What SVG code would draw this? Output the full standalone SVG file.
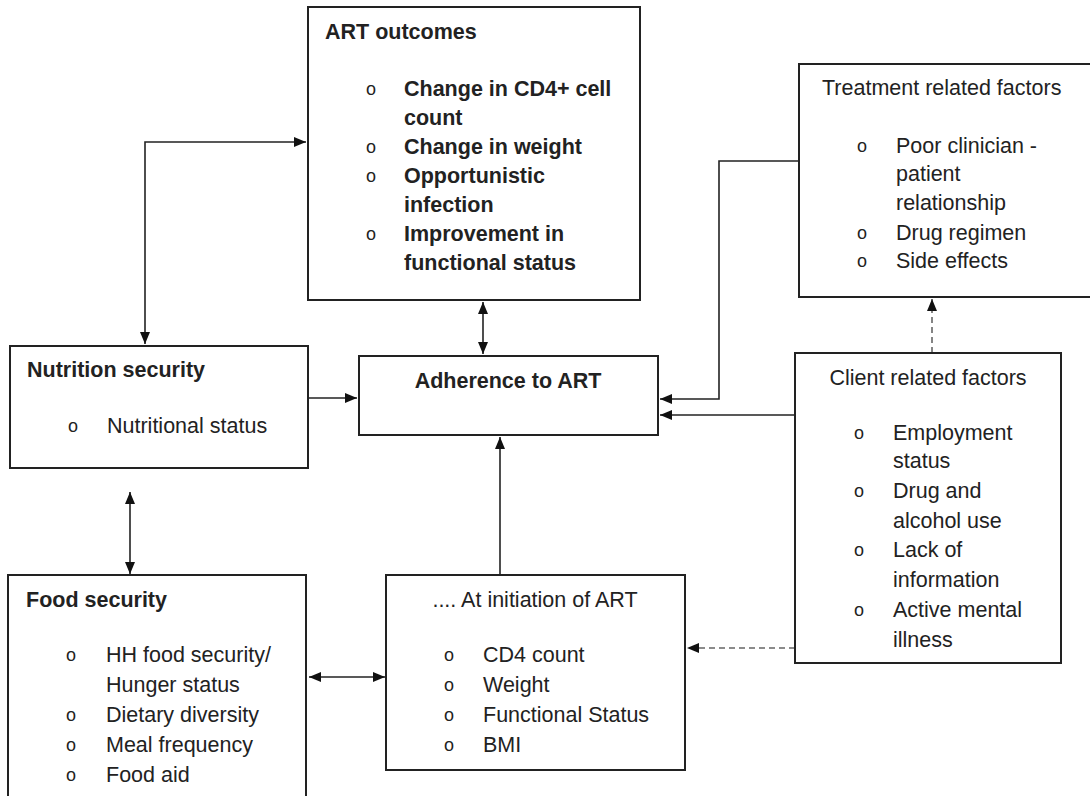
<svg xmlns="http://www.w3.org/2000/svg" width="1090" height="796" viewBox="0 0 1090 796">
<defs>
<marker id="ah" viewBox="0 0 12 10" refX="12" refY="5" markerWidth="12" markerHeight="10" markerUnits="userSpaceOnUse" orient="auto-start-reverse">
<path d="M0,0 L12,5 L0,10 z" fill="#111"/>
</marker>
<style>
.box{fill:#fff;stroke:#222;stroke-width:2}
.t{font-family:"Liberation Sans",Arial,sans-serif;font-size:21.5px;fill:#222}
.b{font-weight:bold}
.m{text-anchor:middle}
.o{font-family:"Liberation Sans",Arial,sans-serif;font-size:18px;fill:#222;text-anchor:middle}
.c{fill:none;stroke:#222;stroke-width:1.6}
.d{fill:none;stroke:#666;stroke-width:1.6;stroke-dasharray:6,4}
</style>
</defs>
<rect width="1090" height="796" fill="#fff"/>
<g id="connectors">
<polyline class="c" points="145,344 145,142 306,142" marker-start="url(#ah)" marker-end="url(#ah)"/>
<line class="c" x1="483" y1="302" x2="483" y2="354" marker-start="url(#ah)" marker-end="url(#ah)"/>
<line class="c" x1="309" y1="398" x2="357" y2="398" marker-end="url(#ah)"/>
<polyline class="c" points="799,161 719,161 719,399 660,399" marker-end="url(#ah)"/>
<line class="c" x1="795" y1="415" x2="660" y2="415" marker-end="url(#ah)"/>
<line class="c" x1="500" y1="575" x2="500" y2="437" marker-end="url(#ah)"/>
<line class="c" x1="130" y1="492" x2="130" y2="574" marker-start="url(#ah)" marker-end="url(#ah)"/>
<line class="c" x1="309" y1="677" x2="385" y2="677" marker-start="url(#ah)" marker-end="url(#ah)"/>
<line class="d" x1="932" y1="353" x2="932" y2="299" marker-end="url(#ah)"/>
<line class="d" x1="795" y1="648" x2="687" y2="648" marker-end="url(#ah)"/>
</g>
<g id="art-outcomes">
<rect class="box" x="308" y="7" width="332" height="293"/>
<text class="t b" x="325" y="39">ART outcomes</text>
<text class="o" x="371" y="95">o</text>
<text class="t b" x="404" y="96">Change in CD4+ cell</text>
<text class="t b" x="404" y="125">count</text>
<text class="o" x="371" y="153">o</text>
<text class="t b" x="404" y="154">Change in weight</text>
<text class="o" x="371" y="182">o</text>
<text class="t b" x="404" y="183">Opportunistic</text>
<text class="t b" x="404" y="212">infection</text>
<text class="o" x="371" y="240">o</text>
<text class="t b" x="404" y="241">Improvement in</text>
<text class="t b" x="404" y="270">functional status</text>
</g>
<g id="treatment-factors">
<rect class="box" x="799" y="64" width="300" height="233"/>
<text class="t" x="822" y="95">Treatment related factors</text>
<text class="o" x="862" y="152">o</text>
<text class="t" x="896" y="153">Poor clinician -</text>
<text class="t" x="896" y="181">patient</text>
<text class="t" x="896" y="210">relationship</text>
<text class="o" x="862" y="239">o</text>
<text class="t" x="896" y="240">Drug regimen</text>
<text class="o" x="862" y="267">o</text>
<text class="t" x="896" y="268">Side effects</text>
</g>
<g id="nutrition-security">
<rect class="box" x="10" y="346" width="298" height="122"/>
<text class="t b" x="27" y="377">Nutrition security</text>
<text class="o" x="73" y="432">o</text>
<text class="t" x="107" y="433">Nutritional status</text>
</g>
<g id="adherence">
<rect class="box" x="359" y="356" width="299" height="79"/>
<text class="t b m" x="508" y="388">Adherence to ART</text>
</g>
<g id="client-factors">
<rect class="box" x="795" y="353" width="266" height="310"/>
<text class="t m" x="928" y="385">Client related factors</text>
<text class="o" x="859" y="439">o</text>
<text class="t" x="893" y="440">Employment</text>
<text class="t" x="893" y="468">status</text>
<text class="o" x="859" y="497">o</text>
<text class="t" x="893" y="498">Drug and</text>
<text class="t" x="893" y="528">alcohol use</text>
<text class="o" x="859" y="556">o</text>
<text class="t" x="893" y="557">Lack of</text>
<text class="t" x="893" y="587">information</text>
<text class="o" x="859" y="616">o</text>
<text class="t" x="893" y="617">Active mental</text>
<text class="t" x="893" y="647">illness</text>
</g>
<g id="food-security">
<rect class="box" x="8" y="575" width="298" height="230"/>
<text class="t b" x="26" y="607">Food security</text>
<text class="o" x="71" y="661">o</text>
<text class="t" x="106" y="662">HH food security/</text>
<text class="t" x="106" y="692">Hunger status</text>
<text class="o" x="71" y="721">o</text>
<text class="t" x="106" y="722">Dietary diversity</text>
<text class="o" x="71" y="751">o</text>
<text class="t" x="106" y="752">Meal frequency</text>
<text class="o" x="71" y="781">o</text>
<text class="t" x="106" y="782">Food aid</text>
</g>
<g id="at-initiation">
<rect class="box" x="386" y="575" width="299" height="195"/>
<text class="t m" x="535" y="607">.... At initiation of ART</text>
<text class="o" x="449" y="661">o</text>
<text class="t" x="483" y="662">CD4 count</text>
<text class="o" x="449" y="691">o</text>
<text class="t" x="483" y="692">Weight</text>
<text class="o" x="449" y="721">o</text>
<text class="t" x="483" y="722">Functional Status</text>
<text class="o" x="449" y="751">o</text>
<text class="t" x="483" y="752">BMI</text>
</g>
</svg>
